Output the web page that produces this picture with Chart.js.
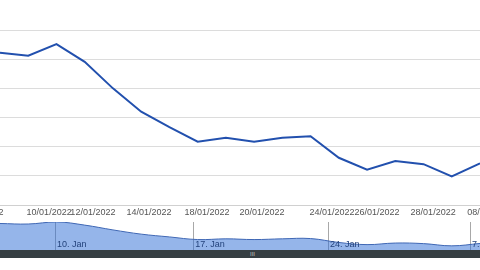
<!DOCTYPE html>
<html>
<head>
<meta charset="utf-8">
<script src="https://cdn.jsdelivr.net/npm/chart.js@4/dist/chart.umd.min.js"></script>
<style>
  html, body { margin: 0; padding: 0; background: #fff; overflow: hidden; }
  #wrap { position: relative; width: 480px; height: 270px; overflow: hidden; }
  #main { position: absolute; left: -80px; top: 0; }
  #nav { position: absolute; left: -80px; top: 222px; }
  #scroll { position: absolute; left: 0; top: 250px; width: 480px; height: 8px; background: #363f43; }
  #grip { position: absolute; left: 250px; top: 0; font: 6px/8px "Liberation Sans"; color: #c0c0c0; }
</style>
</head>
<body>
<div id="wrap">
  <canvas id="main" width="640" height="222"></canvas>
  <canvas id="nav" width="640" height="29"></canvas>
  <div id="scroll"><span id="grip">III</span></div>
</div>
<script>
// series values, one per trading day shown
const values = [52.2, 51.2, 55.2, 49.1, 40.0, 32.0, 26.7, 21.7, 23.1, 21.7, 23.1, 23.6, 16.2, 12.1, 15.1, 14.0, 9.8, 14.3];

// x axis labels (value on the index axis + text)
const tickValues = [-0.67, 1.74, 3.29, 5.28, 7.33, 9.28, 11.76, 13.35, 15.34, 17.35];
const tickLabels = ["06/01/2022", "10/01/2022", "12/01/2022", "14/01/2022", "18/01/2022",
                    "20/01/2022", "24/01/2022", "26/01/2022", "28/01/2022", "08/02/2022"];

// navigator week labels
const navTickValues = [1.95, 6.84, 11.62, 16.65];
const navTickLabels = ["10. Jan", "17. Jan", "24. Jan", "7. Feb"];

const points = values.map((v, i) => ({ x: i, y: v }));
const xMin = -2.8333, xMax = 19.8333;
const font = { family: "Liberation Sans", size: 9 };

new Chart(document.getElementById("main"), {
  type: "line",
  data: {
    datasets: [{
      data: points,
      borderColor: "#2250ae",
      borderWidth: 2,
      pointRadius: 0,
      tension: 0,
      fill: false
    }]
  },
  options: {
    responsive: false,
    animation: false,
    plugins: { legend: { display: false }, tooltip: { enabled: false } },
    layout: { padding: 0 },
    scales: {
      x: {
        type: "linear",
        min: xMin,
        max: xMax,
        afterBuildTicks: s => { s.ticks = tickValues.map(v => ({ value: v })); },
        afterFit: s => { s.height = 17; },
        ticks: {
          autoSkip: false,
          maxRotation: 0,
          padding: 2,
          color: "#555",
          font: font,
          callback: (v, i) => tickLabels[i]
        },
        grid: { display: false, drawTicks: false },
        border: { color: "#d0d0d0" }
      },
      y: {
        min: 0,
        max: 70.3,
        afterBuildTicks: s => { s.ticks = s.ticks.filter(t => t.value <= 60); },
        ticks: { display: false, stepSize: 10 },
        grid: { color: "#dcdcdc", drawTicks: false },
        border: { display: false }
      }
    }
  }
});

// week labels inside the navigator, just right of each grid line
const navLabels = {
  id: "navLabels",
  afterDraw(chart) {
    const s = chart.scales.x;
    const ctx = chart.ctx;
    ctx.save();
    ctx.font = '9px "Liberation Sans"';
    ctx.fillStyle = "#24437c";
    ctx.textBaseline = "middle";
    navTickValues.forEach((v, i) => {
      ctx.fillText(navTickLabels[i], s.getPixelForValue(v) + 2, chart.chartArea.bottom - 6);
    });
    ctx.restore();
  }
};

new Chart(document.getElementById("nav"), {
  type: "line",
  data: {
    datasets: [{
      data: points,
      borderColor: "#3f67b4",
      borderWidth: 1,
      backgroundColor: "rgba(43, 108, 214, 0.5)",
      pointRadius: 0,
      tension: 0.4,
      fill: "origin"
    }]
  },
  options: {
    responsive: false,
    animation: false,
    plugins: { legend: { display: false }, tooltip: { enabled: false } },
    layout: { padding: 0 },
    scales: {
      x: {
        type: "linear",
        min: xMin,
        max: xMax,
        afterBuildTicks: s => { s.ticks = navTickValues.map(v => ({ value: v })); },
        afterFit: s => { s.height = 0; },
        ticks: { display: false },
        grid: { color: "#a8a8a8", drawTicks: false },
        border: { display: false }
      },
      y: { display: false, min: 0, max: 55 }
    }
  },
  plugins: [navLabels]
});
</script>
</body>
</html>
